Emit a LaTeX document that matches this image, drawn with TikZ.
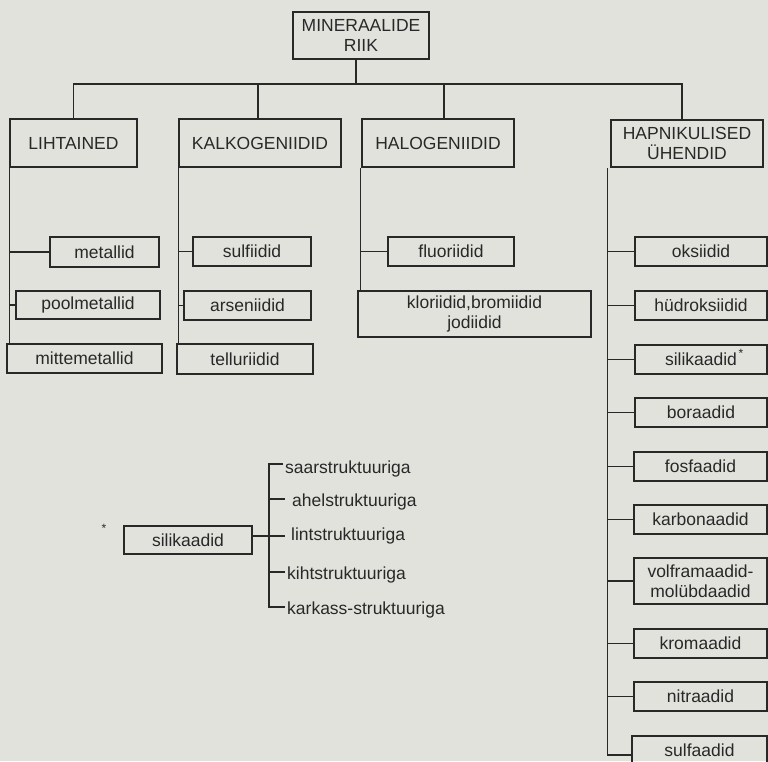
\documentclass[tikz,border=0pt]{standalone}
\usepackage{fontspec}
\setmainfont{Liberation Sans}
\definecolor{paper}{RGB}{226,226,221}
\definecolor{ink}{RGB}{40,40,40}
\begin{document}
\begin{tikzpicture}[x=1pt,y=-1pt,
  box/.style={draw=ink, line width=1.5pt, inner sep=0pt, text=ink, align=center,
              font=\fontsize{17.5}{20}\selectfont},
  lbl/.style={text=ink, inner sep=0pt, anchor=west, font=\fontsize{17.5}{20}\selectfont},
  star/.style={text=ink, inner sep=0pt, font=\fontsize{12}{12}\selectfont},
  conn/.style={draw=ink, line width=1.5pt}]
\fill[paper] (0,0) rectangle (768,761);
\useasboundingbox (0,0) rectangle (768,761);
\clip (0,0) rectangle (768,761);

% top level
\node[box, minimum width=136pt, minimum height=47pt] (top) at (361,35.5) {MINERAALIDE\\RIIK};
\node[box, minimum width=127pt, minimum height=48pt] (lih) at (73.5,143) {LIHTAINED};
\node[box, minimum width=162pt, minimum height=48pt] (kal) at (260,143) {KALKOGENIIDID};
\node[box, minimum width=152pt, minimum height=48pt] (hal) at (438,143) {HALOGENIIDID};
\node[box, minimum width=152pt, minimum height=47pt] (hap) at (687,143.5) {HAPNIKULISED\\ÜHENDID};

% lihtained
\node[box, minimum width=109pt, minimum height=30pt] (met) at (104.5,252) {metallid};
\node[box, minimum width=144pt, minimum height=28pt] (pool) at (88,305) {poolmetallid};
\node[box, minimum width=155pt, minimum height=29pt] (mit) at (84.5,358.5) {mittemetallid};

% kalkogeniidid
\node[box, minimum width=118pt, minimum height=29pt] (sulf) at (252,251.5) {sulfiidid};
\node[box, minimum width=127pt, minimum height=29pt] (ars) at (247.5,305.5) {arseniidid};
\node[box, minimum width=136pt, minimum height=30pt] (tel) at (245,359) {telluriidid};

% halogeniidid
\node[box, minimum width=126pt, minimum height=29pt] (flu) at (451,251.5) {fluoriidid};
\node[box, minimum width=233pt, minimum height=46pt] (klo) at (474.5,314) {kloriidid,bromiidid\\jodiidid};

% hapnikulised
\node[box, minimum width=132pt, minimum height=29pt] (oks) at (701,251.5) {oksiidid};
\node[box, minimum width=132pt, minimum height=29pt] (hyd) at (701,305.5) {hüdroksiidid};
\node[box, minimum width=132pt, minimum height=29pt] (sil) at (701,359.5) {silikaadid};
\node[box, minimum width=132pt, minimum height=29pt] (bor) at (701,412.5) {boraadid};
\node[box, minimum width=133pt, minimum height=29pt] (fos) at (700.5,466.5) {fosfaadid};
\node[box, minimum width=133pt, minimum height=29pt] (kar) at (700.5,519.5) {karbonaadid};
\node[box, minimum width=133pt, minimum height=46pt] (vol) at (700.5,581) {volframaadid-\\molübdaadid};
\node[box, minimum width=133pt, minimum height=29pt] (kro) at (700.5,643.5) {kromaadid};
\node[box, minimum width=133pt, minimum height=29pt] (nit) at (700.5,696.5) {nitraadid};
\node[box, minimum width=135pt, minimum height=28pt] (sul) at (699.5,750) {sulfaadid};
\node[star] (st1) at (741,353) {*};

% silikaadid detail
\node[box, minimum width=128pt, minimum height=28pt] (silL) at (188,540) {silikaadid};
\node[star] (st2) at (104,528) {*};
\node[lbl] (saar) at (285,469) {saarstruktuuriga};
\node[lbl] (ahel) at (292,502) {ahelstruktuuriga};
\node[lbl] (lint) at (291,536) {lintstruktuuriga};
\node[lbl] (kiht) at (287,575) {kihtstruktuuriga};
\node[lbl] (kark) at (287,610) {karkass-struktuuriga};

% bus
\coordinate (bus) at (0,84);
\draw[conn] ([xshift=-5pt]top.south) -- ([xshift=-5pt]top.south |- bus);
\draw[conn] (lih.north) -- (lih.north |- bus) -- ([xshift=-5pt]hap.north |- bus) -- ([xshift=-5pt]hap.north);
\draw[conn] ([xshift=-2pt]kal.north) -- ([xshift=-2pt]kal.north |- bus);
\draw[conn] ([xshift=6pt]hal.north) -- ([xshift=6pt]hal.north |- bus);

% lihtained trunk
\draw[conn] (lih.south west) -- (lih.south west |- mit.north);
\draw[conn] (lih.south west |- met.west) -- (met.west);
\draw[conn] (lih.south west |- pool.west) -- (pool.west);

% kalkogeniidid trunk
\draw[conn] (kal.south west) -- (kal.south west |- tel.north);
\draw[conn] (kal.south west |- sulf.west) -- (sulf.west);
\draw[conn] (kal.south west |- ars.west) -- (ars.west);

% halogeniidid trunk
\coordinate (hlT) at ([xshift=-1pt]hal.south west);
\draw[conn] (hlT) -- (hlT |- klo.north);
\draw[conn] (hlT |- flu.west) -- (flu.west);

% hapnikulised trunk
\coordinate (hT) at ([xshift=-3pt]hap.south west);
\coordinate (hB) at (0,755);
\draw[conn] (hT) -- (hT |- hB) -- (sul.west |- hB);
\foreach \n in {oks,hyd,sil,bor,fos,kar,vol,kro,nit}
  \draw[conn] (hT |- \n.west) -- (\n.west);

% silikaadid structures
\coordinate (t1) at (269,464);
\coordinate (t2) at (269,499);
\coordinate (t3) at (269,536);
\coordinate (t4) at (269,572);
\coordinate (t5) at (269,607);
\draw[conn] ([xshift=-2pt]saar.west |- t1) -- (t1) -- (t5) -- ([xshift=-2pt]kark.west |- t5);
\draw[conn] (t2) -- ([xshift=-7pt]ahel.west |- t2);
\draw[conn] (silL.east |- t3) -- ([xshift=-6pt]lint.west |- t3);
\draw[conn] (t4) -- ([xshift=-2pt]kiht.west |- t4);
\end{tikzpicture}
\end{document}
